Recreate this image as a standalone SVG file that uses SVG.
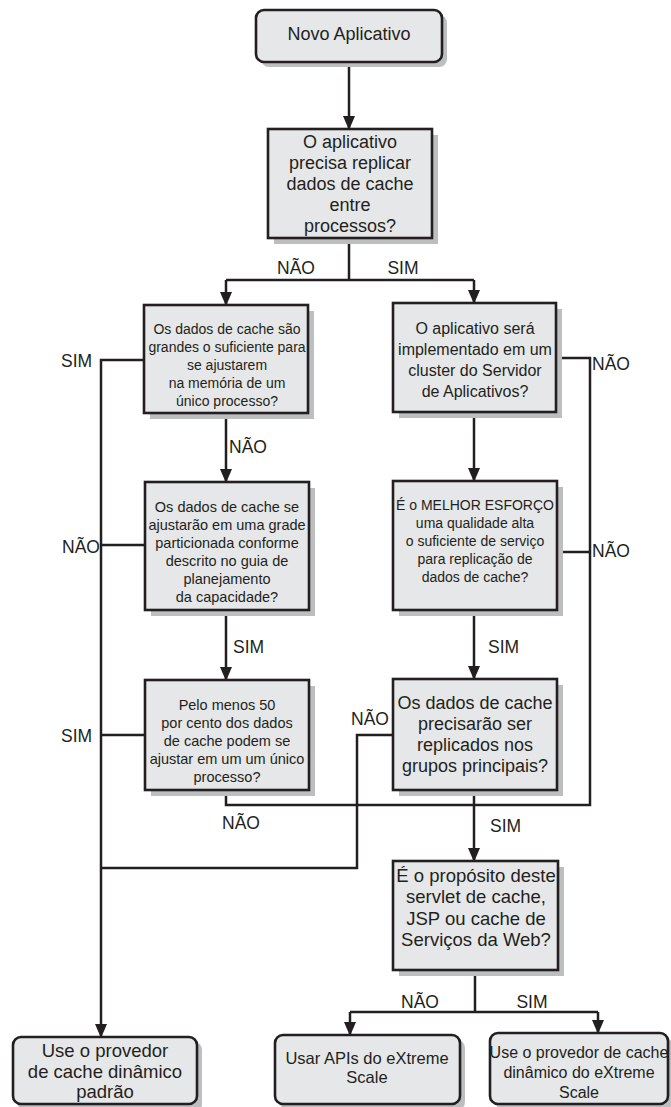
<svg xmlns="http://www.w3.org/2000/svg" width="671" height="1107" viewBox="0 0 671 1107">
<defs>
<marker id="arr" viewBox="0 0 14 12" refX="13" refY="6" markerWidth="14" markerHeight="12" orient="auto" markerUnits="userSpaceOnUse">
<path d="M0,0 L14,6 L0,12 z" fill="#231f20"/>
</marker>
<style>
.box{fill:#e6e7e8;stroke:#231f20;stroke-width:2.6}
.sh{fill:#bcbec0}
.t{font-family:"Liberation Sans",Arial,sans-serif;fill:#231f20;text-anchor:middle}
.lbl{font-family:"Liberation Sans",Arial,sans-serif;fill:#231f20;font-size:17.5px}
.c{fill:none;stroke:#231f20;stroke-width:2.5}
</style>
</defs>
<rect width="671" height="1107" fill="#fff"/>

<g id="connectors">
<path class="c" d="M349,62 V129" marker-end="url(#arr)"/>
<path class="c" d="M349,238 V280 M226,280 H474"/>
<path class="c" d="M226,280 V305" marker-end="url(#arr)"/>
<path class="c" d="M474,280 V303" marker-end="url(#arr)"/>
<path class="c" d="M144,360 H101 V1037" marker-end="url(#arr)"/>
<path class="c" d="M226,413 V482" marker-end="url(#arr)"/>
<path class="c" d="M145,545 H101"/>
<path class="c" d="M226,610 V680" marker-end="url(#arr)"/>
<path class="c" d="M145,735 H101"/>
<path class="c" d="M226,790 V805 H590 V358 H556"/>
<path class="c" d="M557,552 H590"/>
<path class="c" d="M474,412 V481" marker-end="url(#arr)"/>
<path class="c" d="M474,610 V679" marker-end="url(#arr)"/>
<path class="c" d="M474,790 V861" marker-end="url(#arr)"/>
<path class="c" d="M393,735 H357 V868 H101"/>
<path class="c" d="M475,970 V1012 M350,1012 H598"/>
<path class="c" d="M350,1012 V1035" marker-end="url(#arr)"/>
<path class="c" d="M598,1012 V1033" marker-end="url(#arr)"/>
</g>

<g id="labels">
<text class="lbl" x="296" y="274" text-anchor="middle">NÃO</text>
<text class="lbl" x="403" y="274" text-anchor="middle">SIM</text>
<text class="lbl" x="61" y="367">SIM</text>
<text class="lbl" x="592" y="370">NÃO</text>
<text class="lbl" x="229" y="453">NÃO</text>
<text class="lbl" x="100" y="553" text-anchor="end">NÃO</text>
<text class="lbl" x="233" y="653">SIM</text>
<text class="lbl" x="592" y="557">NÃO</text>
<text class="lbl" x="488" y="653">SIM</text>
<text class="lbl" x="61" y="742">SIM</text>
<text class="lbl" x="351" y="725">NÃO</text>
<text class="lbl" x="222" y="829">NÃO</text>
<text class="lbl" x="490" y="832">SIM</text>
<text class="lbl" x="420" y="1008" text-anchor="middle">NÃO</text>
<text class="lbl" x="532" y="1008" text-anchor="middle">SIM</text>
</g>

<g id="n1">
<rect class="sh" x="261" y="15" width="186" height="52" rx="8"/>
<rect class="box" x="256" y="10" width="186" height="52" rx="8"/>
<text class="t" x="349" y="40" font-size="18">Novo Aplicativo</text>
</g>

<g id="n2">
<rect class="sh" x="274" y="135" width="164" height="109"/>
<rect class="box" x="268" y="129" width="164" height="109"/>
<text class="t" x="350" font-size="18"><tspan x="350" y="148">O aplicativo</tspan><tspan x="350" y="169">precisa replicar</tspan><tspan x="350" y="190">dados de cache</tspan><tspan x="350" y="211">entre</tspan><tspan x="350" y="232">processos?</tspan></text>
</g>

<g id="n3">
<rect class="sh" x="150" y="311" width="164" height="108"/>
<rect class="box" x="144" y="305" width="164" height="108"/>
<text class="t" font-size="14"><tspan x="227" y="334">Os dados de cache são</tspan><tspan x="227" y="352">grandes o suficiente para</tspan><tspan x="227" y="370">se ajustarem</tspan><tspan x="227" y="388">na memória de um</tspan><tspan x="227" y="406">único processo?</tspan></text>
</g>

<g id="n4">
<rect class="sh" x="399" y="309" width="163" height="109"/>
<rect class="box" x="393" y="303" width="163" height="109"/>
<text class="t" font-size="16"><tspan x="475" y="334">O aplicativo será</tspan><tspan x="475" y="355">implementado em um</tspan><tspan x="475" y="376">cluster do Servidor</tspan><tspan x="475" y="397">de Aplicativos?</tspan></text>
</g>

<g id="n5">
<rect class="sh" x="151" y="488" width="164" height="128"/>
<rect class="box" x="145" y="482" width="164" height="128"/>
<text class="t" font-size="14.5"><tspan x="227" y="512">Os dados de cache se</tspan><tspan x="227" y="530">ajustarão em uma grade</tspan><tspan x="227" y="548">particionada conforme</tspan><tspan x="227" y="566">descrito no guia de</tspan><tspan x="227" y="584">planejamento</tspan><tspan x="227" y="602">da capacidade?</tspan></text>
</g>

<g id="n6">
<rect class="sh" x="399" y="487" width="164" height="129"/>
<rect class="box" x="393" y="481" width="164" height="129"/>
<text class="t" font-size="14"><tspan x="475" y="510">É o MELHOR ESFORÇO</tspan><tspan x="475" y="528">uma qualidade alta</tspan><tspan x="475" y="546">o suficiente de serviço</tspan><tspan x="475" y="564">para replicação de</tspan><tspan x="475" y="582">dados de cache?</tspan></text>
</g>

<g id="n7">
<rect class="sh" x="151" y="686" width="164" height="110"/>
<rect class="box" x="145" y="680" width="164" height="110"/>
<text class="t" font-size="14.5"><tspan x="227" y="710">Pelo menos 50</tspan><tspan x="227" y="728">por cento dos dados</tspan><tspan x="227" y="746">de cache podem se</tspan><tspan x="227" y="764">ajustar em um um único</tspan><tspan x="227" y="782">processo?</tspan></text>
</g>

<g id="n8">
<rect class="sh" x="399" y="685" width="164" height="111"/>
<rect class="box" x="393" y="679" width="164" height="111"/>
<text class="t" font-size="18"><tspan x="475" y="709">Os dados de cache</tspan><tspan x="475" y="730">precisarão ser</tspan><tspan x="475" y="751">replicados nos</tspan><tspan x="475" y="772">grupos principais?</tspan></text>
</g>

<g id="n9">
<rect class="sh" x="399" y="867" width="165" height="109"/>
<rect class="box" x="393" y="861" width="165" height="109"/>
<text class="t" font-size="18.5"><tspan x="476" y="882">É o propósito deste</tspan><tspan x="476" y="903">servlet de cache,</tspan><tspan x="476" y="925">JSP ou cache de</tspan><tspan x="476" y="946">Serviços da Web?</tspan></text>
</g>

<g id="n10">
<rect class="sh" x="280" y="1040" width="185" height="70" rx="8"/>
<rect class="box" x="275" y="1035" width="185" height="69" rx="8"/>
<text class="t" font-size="16.5"><tspan x="367" y="1064">Usar APIs do eXtreme</tspan><tspan x="367" y="1083">Scale</tspan></text>
</g>

<g id="n11">
<rect class="sh" x="495" y="1038" width="178" height="71" rx="8"/>
<rect class="box" x="490" y="1033" width="178" height="71" rx="8"/>
<text class="t" font-size="16"><tspan x="579" y="1058">Use o provedor de cache</tspan><tspan x="579" y="1078">dinâmico do eXtreme</tspan><tspan x="579" y="1098">Scale</tspan></text>
</g>

<g id="n12">
<rect class="sh" x="18" y="1042" width="184" height="70" rx="8"/>
<rect class="box" x="13" y="1037" width="184" height="67" rx="8"/>
<text class="t" font-size="18.5"><tspan x="105" y="1057">Use o provedor</tspan><tspan x="105" y="1078">de cache dinâmico</tspan><tspan x="105" y="1098">padrão</tspan></text>
</g>
</svg>
